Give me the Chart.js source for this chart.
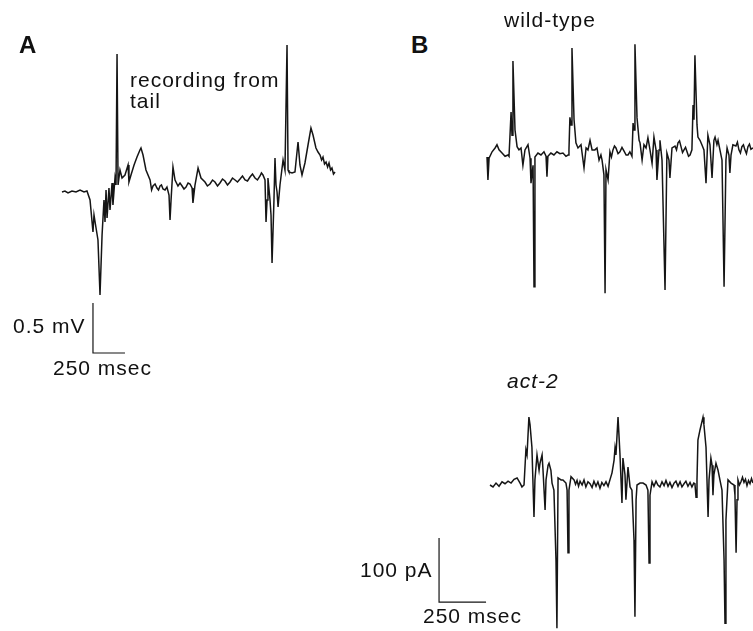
<!DOCTYPE html>
<html>
<head>
<meta charset="utf-8">
<script src="https://cdn.jsdelivr.net/npm/chart.js@4/dist/chart.umd.min.js"></script>
<style>
  body { margin: 0; background: #fff; width: 753px; height: 631px; position: relative; overflow: hidden; }
  canvas { position: absolute; }
  .rotulo { position: absolute; font-family: "Liberation Sans", Arial, sans-serif; font-size: 21px; line-height: 21px; letter-spacing: 1px; color: #111; white-space: nowrap; }
  .painel { position: absolute; font-family: "Liberation Sans", Arial, sans-serif; font-size: 24px; line-height: 24px; font-weight: bold; color: #111; }
</style>
</head>
<body>

<canvas id="graficoA" width="360" height="400" style="left:0px;top:0px"></canvas>
<canvas id="graficoWT" width="283" height="290" style="left:470px;top:30px"></canvas>
<canvas id="graficoAct2" width="403" height="251" style="left:350px;top:380px"></canvas>

<div class="painel" style="left:19px;top:33px">A</div>
<div class="painel" style="left:411px;top:33px">B</div>
<div class="rotulo" style="left:130px;top:69px">recording from<br>tail</div>
<div class="rotulo" style="left:13px;top:315px">0.5 mV</div>
<div class="rotulo" style="left:53px;top:357px">250 msec</div>
<div class="rotulo" style="left:504px;top:9px">wild-type</div>
<div class="rotulo" style="left:507px;top:370px;font-style:italic">act-2</div>
<div class="rotulo" style="left:360px;top:559px">100 pA</div>
<div class="rotulo" style="left:423px;top:605px">250 msec</div>

<script>
// Trace A: recording from tail (time in msec, voltage in mV)
var tempoA = [0, 23, 47, 78, 109, 141, 172, 195, 219, 242, 250, 266, 281, 297, 313, 328, 336, 344, 352, 367,
  375, 391, 398, 414, 422, 430, 438, 453, 469, 492, 516, 523, 539, 563, 586, 609, 617, 633, 656, 688,
  700, 711, 727, 742, 754, 766, 777, 789, 805, 820, 836, 844, 852, 867, 883, 906, 922, 938, 953, 969, 985,
  1000, 1016, 1023, 1039, 1063, 1086, 1117, 1136, 1156, 1176, 1195, 1215, 1234, 1254, 1273, 1293, 1313, 1332, 1352,
  1371, 1391, 1410, 1430, 1449, 1469, 1488, 1508, 1527, 1547, 1558, 1570, 1586, 1594, 1602, 1609, 1625, 1633, 1641, 1656,
  1664, 1672, 1680, 1688, 1703, 1727, 1742, 1758, 1766, 1773, 1797, 1820, 1844, 1859, 1875, 1898, 1922, 1945, 1961, 1984,
  2000, 2016, 2028, 2039, 2051, 2063, 2075, 2086, 2098, 2109, 2121, 2133];
var tensaoA = [0, 0.01, -0.01, 0.01, 0, 0.02, 0, 0.01, -0.08, -0.40, -0.23, -0.36, -0.48, -1.03, -0.43, -0.08, -0.30, 0.02, -0.26, 0.04,
  -0.18, 0.09, -0.13, 0.14, 0.07, 1.38, 0.07, 0.22, 0.14, 0.17, 0.27, 0.10, 0.17, 0.27, 0.35, 0.42, 0.44, 0.37, 0.22, 0.12,
  0.02, 0.06, 0.08, 0.04, 0.02, 0.06, 0.07, 0.03, 0.02, 0.05, -0.03, -0.28, -0.08, 0.25, 0.12, 0.06, 0.09, 0.06, 0.03, 0.05, 0.09,
  0.08, 0.04, -0.11, 0.07, 0.24, 0.14, 0.10, 0.06, 0.08, 0.12, 0.10, 0.06, 0.09, 0.13, 0.11, 0.07, 0.10, 0.14, 0.12,
  0.10, 0.13, 0.16, 0.12, 0.11, 0.15, 0.18, 0.14, 0.12, 0.16, 0.19, 0.17, 0.12, -0.30, -0.08, 0.14, -0.08, -0.23, -0.71, -0.08,
  0.34, 0.07, 0, -0.15, 0.07, 0.32, 0.22, 1.47, 0.22, 0.20, 0.19, 0.20, 0.50, 0.27, 0.17, 0.29, 0.47, 0.64, 0.57, 0.44,
  0.40, 0.37, 0.32, 0.35, 0.28, 0.30, 0.25, 0.29, 0.22, 0.24, 0.18, 0.20];

// Trace B, wild-type (time in msec, current in pA)
var tempoWT = [0, 5, 11, 27, 43, 53, 64, 80, 96, 112, 117, 122, 128, 133, 138, 149, 160, 170, 181, 191,
  202, 218, 229, 234, 245, 250, 255, 271, 287, 303, 314, 319, 324, 340, 356, 372, 388, 404, 420, 431,
  436, 441, 447, 452, 463, 473, 484, 500, 516, 527, 537, 548, 559, 574, 585, 596, 606, 612, 622, 628,
  633, 644, 654, 662, 670, 678, 686, 697, 707, 718, 729, 740, 750, 760, 771, 777, 782, 787, 798, 809,
  814, 825, 835, 846, 856, 867, 878, 888, 899, 904, 915, 920, 931, 947, 957, 968, 973, 984, 1000, 1008,
  1016, 1024, 1032, 1040, 1048, 1056, 1064, 1072, 1080, 1090, 1096, 1101, 1106, 1117, 1122, 1133, 1143, 1154, 1165, 1175,
  1186, 1197, 1207, 1213, 1223, 1229, 1239, 1250, 1261, 1271, 1277, 1287, 1292, 1298, 1308, 1324, 1332, 1340, 1348, 1356,
  1364, 1372, 1380, 1388, 1396, 1404, 1415];
var correnteWT = [-3, -39, -5, 5, 11, 16, 8, 3, -2, 0, -2, 28, 67, 31, 147, 39, 13, 8, 11, -16,
  8, 16, -5, -44, -16, -206, -3, 3, 0, 5, -2, -34, -2, 3, 0, 5, 2, 3, -2, 0,
  8, 59, 47, 167, 55, 19, 11, 16, -20, 11, 8, 23, 8, 8, 11, -8, 0, -8, -31, -216,
  -23, -39, 5, -3, 8, 14, 11, 2, 5, 12, 6, 0, 0, 5, -2, 50, 39, 173, 58, 23,
  19, -8, 16, 11, 27, 8, -13, 28, 8, -39, 8, 23, -8, -211, 3, -8, -36, 11, 14, 8,
  19, 22, 13, 4, 8, 12, 5, -2, 0, 8, 78, 55, 156, 47, 28, 23, 16, 8, -44, 31,
  16, -36, 23, 28, 16, 23, 8, -8, -206, -8, 11, 0, -28, 0, 16, 14, 20, 8, 3, 13,
  16, 8, 2, 13, 17, 9, 11];

// Trace B, act-2 (time in msec, current in pA)
var tempoAct2 = [0, 16, 32, 48, 64, 80, 96, 112, 128, 144, 160, 170, 181, 191, 197, 207, 213, 223, 234, 239,
  250, 261, 266, 277, 282, 293, 298, 309, 314, 324, 330, 340, 351, 356, 362, 378, 388, 404, 410, 415,
  420, 431, 447, 455, 463, 471, 479, 490, 500, 510, 521, 532, 543, 553, 564, 574, 585, 595, 606, 617,
  628, 638, 649, 660, 665, 670, 681, 691, 702, 707, 718, 723, 734, 745, 755, 766, 771, 777, 782, 798,
  814, 830, 840, 846, 851, 862, 872, 883, 893, 904, 915, 926, 936, 947, 957, 968, 979, 989, 1000, 1011,
  1021, 1032, 1042, 1053, 1064, 1074, 1084, 1090, 1096, 1101, 1106, 1117, 1133, 1138, 1149, 1160, 1165, 1175, 1181, 1186,
  1191, 1202, 1213, 1223, 1234, 1245, 1250, 1255, 1266, 1282, 1298, 1303, 1309, 1314, 1319, 1327, 1335, 1343, 1351, 1359,
  1367, 1375, 1383, 1391, 1399];
var correnteAct2 = [0, -3, 3, -2, 5, 2, 6, 3, 9, 11, 3, -3, 0, 55, 47, 106, 94, 59, -50, 8,
  47, 23, 34, 47, 23, -39, 8, 31, 34, 23, 3, -8, -117, -224, 11, 8, 8, 3, -8, -106,
  -8, 13, 8, 1, 7, -2, 6, 0, 8, -3, 5, 2, -4, 6, -2, 5, -5, 4, -1, 5,
  -2, 8, 19, 39, 58, 47, 106, 50, -28, 42, 16, -23, 28, -3, -8, -86, -206, -23, 0, 3,
  3, 0, -8, -122, -16, 5, -2, 6, 0, -3, 5, -1, 7, -2, 4, -4, 3, 6, -2, 5,
  -3, 2, 6, -2, 4, -3, 3, 2, -19, 8, 70, 86, 106, 94, 59, -50, 8, 42, 31, -16,
  16, 34, 23, 8, -8, -117, -216, -55, 8, 3, 0, -16, -106, -23, 8, 0, 5, 12, 4, 9,
  -1, 7, 2, 10, 3];

// Scale bars
var barraTempo = 250;     // msec
var barraTensao = 0.5;    // mV
var barraCorrente = 100;  // pA

// junta tempo e valor em pontos {x, y}
function pontos(tempos, valores) {
  return tempos.map(function (t, i) { return { x: t, y: valores[i] }; });
}

// cria um grafico sem eixos; origem = pixel do ponto (0,0) dentro do canvas
function criarGrafico(id, series, origem, msPorPx, unPorPx) {
  var canvas = document.getElementById(id);
  var ctx = canvas.getContext('2d');
  var w = canvas.width, h = canvas.height;

  new Chart(ctx, {
    type: 'line',
    data: {
      datasets: series.map(function (s, i) {
        return {
          data: s,
          borderColor: '#151515',
          borderWidth: i === 0 ? 1.5 : 1.2,
          pointRadius: 0,
          tension: 0,
          fill: false
        };
      })
    },
    options: {
      responsive: false,
      animation: false,
      events: [],
      layout: { padding: 0 },
      plugins: { legend: { display: false }, tooltip: { enabled: false } },
      scales: {
        x: { type: 'linear', display: false, min: -origem[0] * msPorPx, max: (w - origem[0]) * msPorPx },
        y: { type: 'linear', display: false, min: -(h - origem[1]) * unPorPx, max: origem[1] * unPorPx }
      }
    }
  });
}

// Painel A
criarGrafico('graficoA', [
  pontos(tempoA, tensaoA),
  [{ x: 242, y: -1.11 }, { x: 242, y: -1.11 - barraTensao }, { x: 242 + barraTempo, y: -1.11 - barraTensao }]
], [62, 192], barraTempo / 32, barraTensao / 50);

// Painel B, wild-type
criarGrafico('graficoWT', [
  pontos(tempoWT, correnteWT)
], [17, 125], barraTempo / 47, barraCorrente / 64);

// Painel B, act-2
criarGrafico('graficoAct2', [
  pontos(tempoAct2, correnteAct2),
  [{ x: -271, y: -83 }, { x: -271, y: -83 - barraCorrente }, { x: -271 + barraTempo, y: -83 - barraCorrente }]
], [140, 105], barraTempo / 47, barraCorrente / 64);
</script>
</body>
</html>
